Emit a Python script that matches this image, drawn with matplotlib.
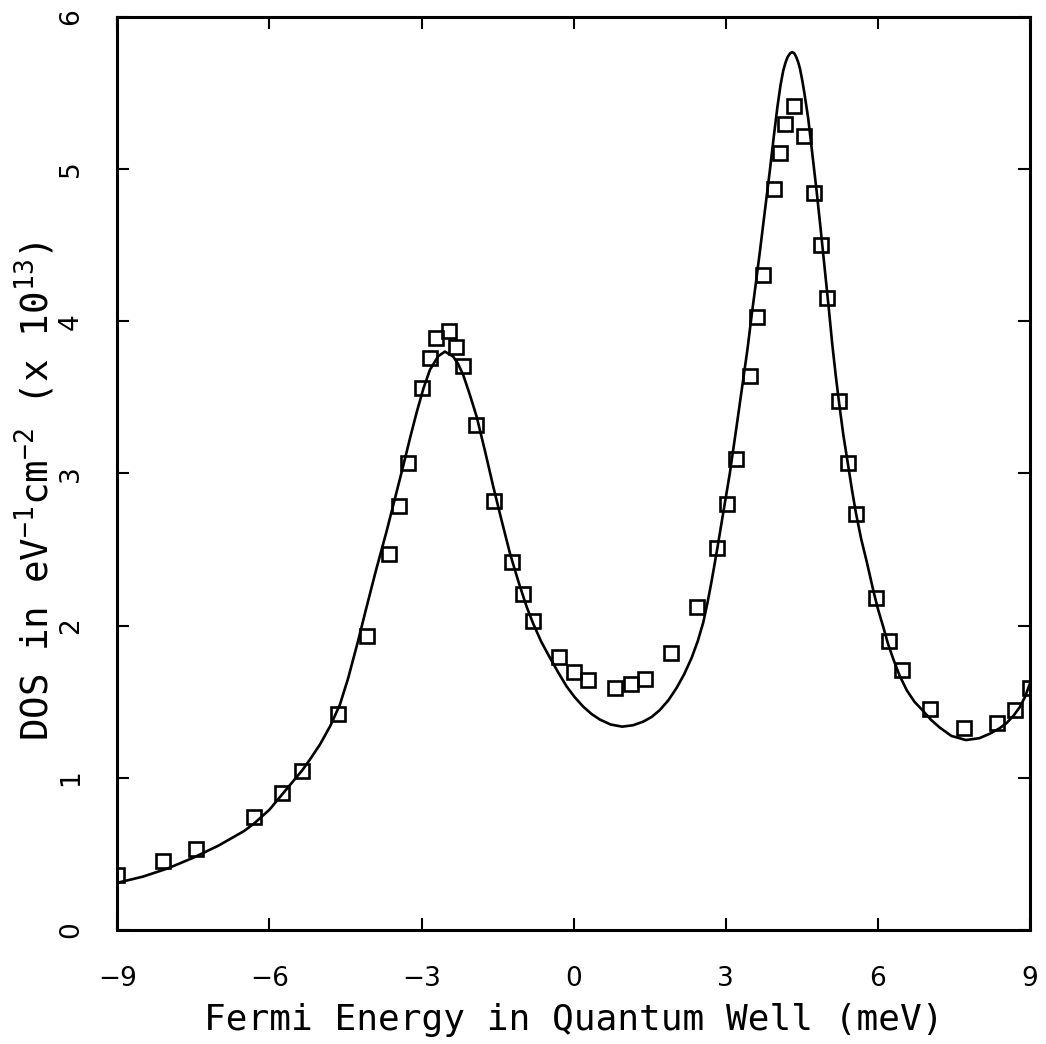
import numpy as np
import matplotlib
matplotlib.use("Agg")
import matplotlib.pyplot as plt

# measured DOS points (open squares)
energy_pts = [-9.0, -8.105, -7.442, -6.304, -5.752, -5.352, -4.648, -4.070, -3.648, -3.439,
              -3.273, -2.991, -2.834, -2.709, -2.459, -2.314, -2.189, -1.921, -1.572, -1.217,
              -0.994, -0.797, -0.290, 0.006, 0.276, 0.820, 1.136, 1.412, 1.925, 2.426,
              2.820, 3.029, 3.195, 3.477, 3.621, 3.739, 3.956, 4.068, 4.167, 4.345,
              4.548, 4.745, 4.871, 4.989, 5.238, 5.415, 5.567, 5.956, 6.224, 6.474,
              7.026, 7.703, 8.342, 8.697, 9.0]
dos_pts = [0.361, 0.453, 0.534, 0.742, 0.900, 1.047, 1.421, 1.934, 2.468, 2.788,
           3.070, 3.559, 3.756, 3.892, 3.938, 3.830, 3.706, 3.318, 2.821, 2.420,
           2.208, 2.030, 1.792, 1.693, 1.641, 1.592, 1.614, 1.649, 1.822, 2.120,
           2.511, 2.797, 3.091, 3.642, 4.029, 4.306, 4.865, 5.105, 5.298, 5.416,
           5.217, 4.842, 4.501, 4.153, 3.473, 3.069, 2.734, 2.179, 1.899, 1.706,
           1.450, 1.325, 1.362, 1.445, 1.588]

# calculated DOS (solid curve)
energy_fit = [-9.0, -8.5, -8.0, -7.5, -7.0, -6.5, -6.3, -6.0, -5.75, -5.5, -5.35, -5.2, -5.0,
              -4.8, -4.61, -4.45, -4.25, -4.1, -3.9, -3.688, -3.52, -3.36, -3.22, -3.096,
              -2.96, -2.834, -2.67, -2.538, -2.374, -2.28, -2.177, -2.05, -1.913, -1.75,
              -1.585, -1.42, -1.256, -1.09, -0.927, -0.80, -0.64, -0.47, -0.30, -0.138,
              0.02, 0.19, 0.35, 0.52, 0.73, 0.958, 1.17, 1.374, 1.54, 1.70, 1.87, 2.03,
              2.18, 2.33, 2.45, 2.556, 2.64, 2.72, 2.82, 2.95, 3.08, 3.21, 3.34, 3.43,
              3.51, 3.59, 3.674, 3.77, 3.87, 3.95, 4.02, 4.08, 4.133, 4.18, 4.22, 4.27,
              4.31, 4.35, 4.39, 4.43, 4.463, 4.51, 4.55, 4.627, 4.70, 4.79, 4.87, 4.95,
              5.03, 5.1, 5.17, 5.24, 5.32, 5.415, 5.49, 5.567, 5.67, 5.78, 5.91, 6.0,
              6.107, 6.2, 6.304, 6.43, 6.57, 6.72, 6.89, 7.05, 7.22, 7.45, 7.736, 8.0,
              8.21, 8.4, 8.54, 8.68, 8.8, 8.9, 9.0]
dos_fit = [0.31, 0.35, 0.405, 0.475, 0.555, 0.65, 0.70, 0.79, 0.89, 0.99, 1.05, 1.12, 1.22,
           1.34, 1.48, 1.65, 1.90, 2.10, 2.36, 2.62, 2.84, 3.05, 3.24, 3.40,
           3.56, 3.68, 3.77, 3.80, 3.767, 3.72, 3.646, 3.52, 3.373, 3.15,
           2.913, 2.69, 2.475, 2.29, 2.124, 2.015, 1.895, 1.79, 1.69, 1.60,
           1.53, 1.467, 1.42, 1.382, 1.35, 1.336, 1.345, 1.369, 1.40, 1.445, 1.51, 1.59,
           1.68, 1.79, 1.90, 2.02, 2.15, 2.29, 2.48, 2.74, 3.0, 3.30, 3.607, 3.82,
           4.036, 4.24, 4.459, 4.72, 4.99, 5.22, 5.41, 5.55, 5.645, 5.70, 5.735, 5.76,
           5.767, 5.76, 5.735, 5.70, 5.66, 5.58, 5.50, 5.33, 5.12, 4.86, 4.61, 4.35,
           4.09, 3.85, 3.64, 3.45, 3.25, 3.05, 2.89, 2.74, 2.57, 2.42, 2.23, 2.11,
           1.99, 1.88, 1.78, 1.67, 1.575, 1.50, 1.44, 1.38, 1.33, 1.275, 1.248, 1.26,
           1.29, 1.325, 1.36, 1.41, 1.465, 1.53, 1.62]

xticks = [-9, -6, -3, 0, 3, 6, 9]
yticks = [0, 1, 2, 3, 4, 5, 6]

# mono font gives the wide letter spacing of the original axis titles
plt.rcParams['font.family'] = ['DejaVu Sans Mono']
plt.rcParams['mathtext.default'] = 'regular'

fig = plt.figure(figsize=(10.46, 10.44), dpi=100)
ax = fig.add_axes([0.1121, 0.1092, 0.8726, 0.8748])

ax.plot(energy_fit, dos_fit, color='black', lw=1.9, zorder=2)
ax.plot(energy_pts, dos_pts, linestyle='none', marker='s', markersize=10.5,
        markerfacecolor='none', markeredgecolor='black', markeredgewidth=1.9, zorder=3)

ax.set_xlim(-9, 9)
ax.set_ylim(0, 6)
ax.set_xticks(xticks)
ax.set_yticks(yticks)
ax.set_xticklabels([str(t).replace('-', '\u2212') for t in xticks], family='DejaVu Sans')
ax.set_yticklabels([str(t) for t in yticks], rotation=90, va='center', family='DejaVu Sans')

ax.tick_params(direction='in', length=8.5, width=1.5, top=True, right=True,
               labelsize=19, colors='black')
ax.tick_params(axis='x', pad=26)
ax.tick_params(axis='y', pad=24)
for s in ax.spines.values():
    s.set_linewidth(2.2)

ax.set_xlabel('Fermi Energy in Quantum Well (meV)', fontsize=26, labelpad=8)
ax.set_ylabel(r'DOS in eV$^{-1}$cm$^{-2}$ (x 10$^{13}$)', fontsize=27)
ax.yaxis.set_label_coords(-0.066, 0.48)

fig.savefig('out.png', dpi=100)
